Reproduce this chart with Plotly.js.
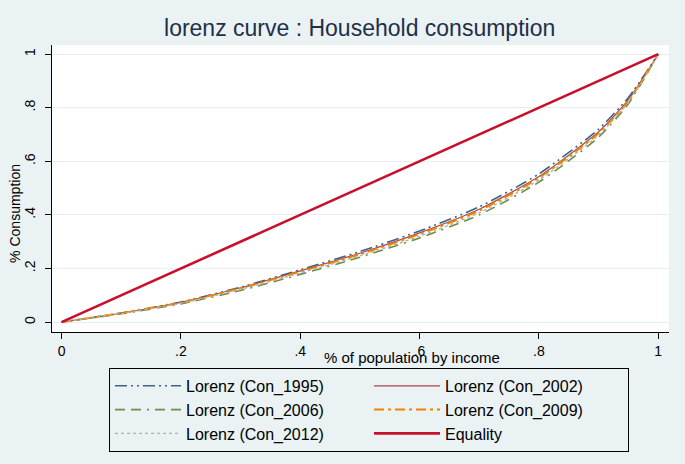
<!DOCTYPE html>
<html><head><meta charset="utf-8">
<script src="https://cdn.plot.ly/plotly-3.0.1.min.js"></script>
<style>html,body{margin:0;padding:0;background:#eaf2f3;}</style>
</head><body>
<div id="chart" style="width:685px;height:464px;"></div>
<script>
// Data
const popShare = [0, 0.1, 0.2, 0.3, 0.4, 0.5, 0.6, 0.7, 0.8, 0.9, 0.95, 1];
const con1995 = [0, 0.034, 0.075, 0.130, 0.195, 0.263, 0.340, 0.430, 0.553, 0.720, 0.838, 1];
const con2002 = [0, 0.033, 0.074, 0.128, 0.191, 0.257, 0.333, 0.421, 0.543, 0.710, 0.830, 1];
const con2006 = [0, 0.031, 0.068, 0.118, 0.178, 0.242, 0.314, 0.400, 0.522, 0.690, 0.815, 1];
const con2009 = [0, 0.033, 0.073, 0.126, 0.188, 0.253, 0.328, 0.416, 0.538, 0.705, 0.825, 1];
const con2012 = [0, 0.032, 0.070, 0.122, 0.183, 0.247, 0.320, 0.408, 0.530, 0.698, 0.820, 1];
const equality = [0, 1];
const equalityX = [0, 1];
const tickVals = [0, 0.2, 0.4, 0.6, 0.8, 1];
const tickText = ['0', '.2', '.4', '.6', '.8', '1'];

const font = 'Liberation Sans, Arial, sans-serif';
function tr(name, y, color, dash, width) {
  return {x: popShare, y: y, name: name, type: 'scatter', mode: 'lines',
          line: {color: color, dash: dash, width: width, shape: 'spline', smoothing: 0.6}};
}
const data = [
  tr('Lorenz (Con_1995)', con1995, '#3d6488', '12px,4px,2px,4px,2px,4px', 1.6),
  tr('Lorenz (Con_2002)', con2002, '#a8474c', 'solid', 1.2),
  tr('Lorenz (Con_2006)', con2006, '#6f8c45', '10px,6px,10px,6px,2px,6px', 1.6),
  tr('Lorenz (Con_2009)', con2009, '#ef8200', '10px,4px,3px,4px', 2),
  tr('Lorenz (Con_2012)', con2012, '#a9b4ad', 'dot', 1.4),
  {x: equalityX, y: equality, name: 'Equality', type: 'scatter', mode: 'lines',
   line: {color: '#c8102e', width: 2.6}}
];

const layout = {
  width: 685, height: 464,
  paper_bgcolor: '#eaf2f3', plot_bgcolor: '#ffffff',
  margin: {l: 52, r: 16, t: 45, b: 132, autoexpand: false},
  font: {family: font, color: '#000'},
  title: {text: 'lorenz curve : Household consumption', x: 0.525, xanchor: 'center', y: 0.94, yanchor: 'middle',
          font: {family: font, size: 23, color: '#1f2f4a'}},
  xaxis: {range: [-0.016, 1.018], tickvals: tickVals, ticktext: tickText,
          showline: true, linecolor: '#000', linewidth: 1, ticks: 'outside', ticklen: 6, tickcolor: '#000',
          showgrid: false, zeroline: false, tickfont: {size: 14, color: '#000'}, fixedrange: true},
  yaxis: {range: [-0.037, 1.034], tickvals: tickVals, ticktext: tickText, tickangle: -90,
          showline: true, linecolor: '#000', linewidth: 1, ticks: 'outside', ticklen: 6, tickcolor: '#000',
          showgrid: true, gridcolor: '#e6eef0', gridwidth: 1, zeroline: false, ticklabelstandoff: 4,
          tickfont: {size: 14, color: '#000'}, fixedrange: true},
  annotations: [
    {text: '% of population by income', xref: 'paper', yref: 'paper', x: 0.583, y: -0.09,
     xanchor: 'center', yanchor: 'middle', showarrow: false, font: {size: 15, color: '#000'}},
    {text: '% Consumption', xref: 'paper', yref: 'paper', x: -0.06, y: 0.415, textangle: -90,
     xanchor: 'center', yanchor: 'middle', showarrow: false, font: {size: 14, color: '#000'}}
  ],
  showlegend: true,
  legend: {orientation: 'h', x: 0.0924, xanchor: 'left', y: -0.125, yanchor: 'top',
           bgcolor: '#eaf2f3', bordercolor: '#000', borderwidth: 1,
           font: {size: 16, color: '#000'}, entrywidth: 178, itemwidth: 66, traceorder: 'normal',
           tracegroupgap: 0}
};
Plotly.newPlot('chart', data, layout, {staticPlot: true, displayModeBar: false});
</script>
</body></html>
